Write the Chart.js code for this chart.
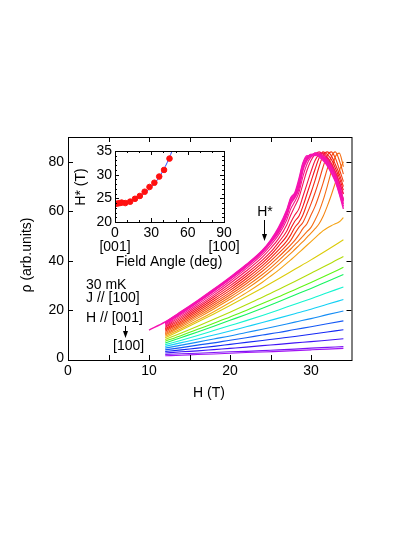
<!DOCTYPE html>
<html>
<head>
<meta charset="utf-8">
<script src="https://cdn.jsdelivr.net/npm/chart.js@4.4.1/dist/chart.umd.min.js"></script>
<style>
  html, body { margin: 0; padding: 0; background: #fff; }
  #wrap { position: relative; width: 415px; height: 537px; }
  canvas { position: absolute; left: 0; top: 0; }
</style>
</head>
<body>
<div id="wrap">
  <canvas id="chart" width="415" height="537"></canvas>
  <canvas id="inset" width="415" height="537"></canvas>
</div>
<script>
const fontFamily = "'Liberation Sans', Arial, Helvetica, sans-serif"
const fontSize = 14

// main panel: resistivity vs field, angle goes from [001] (0 deg) to [100] (90 deg)
const xTicks = [0, 10, 20, 30]
const yTicks = [0, 20, 40, 60, 80]

const fieldHigh = [10, 12, 14, 16, 18, 20, 22, 24, 25, 26, 27, 27.5, 28, 28.5, 29, 29.5, 30, 30.5, 31, 31.5, 32, 32.5, 33, 33.5, 34]
const fieldLow = [12, 14, 16, 18, 20, 22, 24, 26, 28, 30, 32, 34]

const rho0 = [12.1, 15.4, 19.6, 24.0, 28.6, 33.4, 38.5, 44.3, 48.3, 53.5, 60.5, 65.5, 67.5, 73, 79.5, 82.5, 82, 83.5, 82, 80.5, 78.5, 75.5, 72, 67, 61]
const rho1 = [null, 15.2, 19.4, 23.8, 28.4, 33.2, 38.3, 44.1, 48.0, 53.0, 60.0, 65, 67, 72, 79, 82, 82.5, 83, 82.5, 81, 79, 76, 72.5, 67.5, 62]
const rho2 = [null, 15.0, 19.2, 23.6, 28.2, 33.0, 38.1, 43.9, 47.8, 52.5, 59.5, 64.5, 66.5, 71, 78, 81.5, 83, 82.5, 83, 81.5, 79.5, 77, 73.5, 68.5, 63]
const rho3 = [null, 14.8, 19.0, 23.4, 28.0, 32.8, 37.9, 43.7, 47.6, 52.0, 59, 64, 66, 70, 77.5, 81, 83, 83, 82.5, 82, 80, 77.5, 74, 69.5, 64]
const rho4 = [null, 14.6, 18.8, 23.2, 27.8, 32.6, 37.7, 43.5, 47.3, 51.5, 58, 63, 65.5, 69, 76.5, 80.5, 82.5, 83.5, 83, 82, 80.5, 78, 74.5, 70, 64.5]
const rho8 = [null, 14.1, 18.2, 22.5, 27.0, 31.8, 36.9, 42.6, 46.3, 50.5, 56.5, 61, 64, 67.5, 74, 79, 82, 83.5, 83.5, 82.5, 81, 78.5, 75, 70.5, 65]
const rho12 = [null, 13.6, 17.6, 21.8, 26.2, 30.9, 35.9, 41.5, 45.0, 49, 54.5, 58.5, 62, 65.5, 71, 76.5, 80.5, 83, 84, 83, 81.5, 79, 76, 72, 67]
const rho16 = [null, 13.1, 17.0, 21.1, 25.4, 29.9, 34.8, 40.3, 43.5, 47.5, 52, 55.5, 58.5, 61, 66, 71, 76, 80.5, 83, 83.5, 82, 79.5, 76, 71.5, 67]
const rho20 = [null, 12.6, 16.4, 20.4, 24.6, 29.0, 33.8, 39.2, 42.3, 46, 50, 53, 56, 58, 62, 67, 72, 77, 81.5, 84, 83, 81, 77.5, 73.5, 68.5]
const rho24 = [null, 12.1, 15.8, 19.7, 23.8, 28.1, 32.8, 38.1, 41.1, 44.4, 48, 50.5, 53.5, 55.5, 58.5, 63, 67.5, 72.5, 78, 82.5, 84, 82.5, 79, 75, 70]
const rho28 = [null, 11.6, 15.2, 19.0, 23.0, 27.2, 31.8, 37.0, 39.9, 43.0, 46.4, 48.3, 51, 53.5, 55.5, 59, 63, 67.5, 72.5, 78, 82.5, 84, 81.5, 77, 72]
const rho32 = [null, 11.1, 14.6, 18.3, 22.2, 26.3, 30.8, 35.8, 38.6, 41.6, 44.8, 46.5, 48.3, 50.5, 53, 55, 58.5, 62, 66.5, 71.5, 77, 82, 84, 80.5, 75]
const rho36 = [null, 10.6, 14.0, 17.6, 21.4, 25.4, 29.7, 34.5, 37.2, 40.1, 43.2, 44.8, 46.5, 48.2, 50, 51.8, 53.5, 56.5, 60, 64.5, 70, 76, 82, 83.5, 78]
const rho40 = [null, 10.1, 13.4, 16.9, 20.6, 24.5, 28.6, 33.2, 35.8, 38.6, 41.5, 43.0, 44.6, 46.2, 47.8, 49.5, 51.2, 53, 55, 58, 62, 66.5, 71.5, 76.5, 80]
const rho44 = [null, 9.6, 12.7, 16.0, 19.5, 23.2, 27.1, 31.4, 33.8, 36.3, 39.0, 40.4, 41.8, 43.3, 44.8, 46.3, 47.8, 49.3, 50.8, 52.2, 53.3, 54.2, 55.0, 55.8, 57.5]
const rho48 = [9.0, 12.1, 15.3, 18.6, 22.0, 25.5, 29.1, 32.8, 36.6, 40.4, 44.4, 48.5]
const rho52 = [8.3, 10.9, 13.6, 16.4, 19.3, 22.3, 25.3, 28.5, 31.7, 35.0, 38.3, 41.8]
const rho56 = [7.6, 9.9, 12.4, 14.8, 17.4, 20.0, 22.8, 25.5, 28.4, 31.3, 34.3, 37.4]
const rho60 = [6.9, 9.1, 11.3, 13.6, 16.0, 18.4, 20.9, 23.5, 26.2, 28.9, 31.7, 34.5]
const rho64 = [6.2, 8.0, 9.9, 11.9, 13.9, 15.9, 18.0, 20.2, 22.5, 24.7, 27.1, 29.5]
const rho68 = [5.5, 7.0, 8.5, 10.1, 11.7, 13.4, 15.1, 16.9, 18.7, 20.5, 22.5, 24.4]
const rho72 = [4.8, 6.0, 7.2, 8.5, 9.7, 11.1, 12.4, 13.8, 15.3, 16.7, 18.3, 19.8]
const rho76 = [4.1, 5.0, 6.0, 6.9, 8.0, 9.0, 10.1, 11.1, 12.3, 13.4, 14.6, 15.8]
const rho80 = [3.4, 4.1, 4.8, 5.5, 6.3, 7.1, 7.9, 8.7, 9.5, 10.4, 11.3, 12.2]
const rho84 = [2.8, 3.3, 3.7, 4.2, 4.7, 5.2, 5.8, 6.3, 6.9, 7.4, 8.0, 8.6]
const rho88 = [2.2, 2.5, 2.7, 3.0, 3.3, 3.5, 3.8, 4.1, 4.4, 4.8, 5.1, 5.4]
const rho90 = [1.7, 1.9, 2.2, 2.4, 2.7, 3.0, 3.2, 3.5, 3.8, 4.1, 4.4, 4.7]

// inset: H* vs field angle
const insetXTicks = [0, 30, 60, 90]
const insetYTicks = [20, 25, 30, 35]
const angleDeg = [0, 2, 4, 5.5, 8.5, 12.5, 16.5, 20.5, 24.5, 28.5, 32.5, 36.5, 40.5, 45]
const hStar = [23.8, 23.9, 24.0, 24.1, 24.0, 24.3, 24.9, 25.5, 26.4, 27.4, 28.3, 29.6, 31.0, 33.4]
const fitAngle = [0, 5, 10, 15, 20, 25, 30, 35, 40, 43, 46, 48]
const fitH = [23.8, 23.9, 24.2, 24.6, 25.3, 26.2, 27.4, 28.9, 31.0, 32.5, 34.3, 35.6]

// colours, magenta at [001] down to purple at [100]
const curveHue = [318, 318, 320, 320, 322, 328, 340, 350, 358, 5, 12, 18, 24, 30, 38, 55, 72, 100, 140, 170, 190, 208, 222, 235, 252, 268, 278]

const curves = [
    [fieldHigh, rho0], [fieldHigh, rho1], [fieldHigh, rho2], [fieldHigh, rho3], [fieldHigh, rho4],
    [fieldHigh, rho8], [fieldHigh, rho12], [fieldHigh, rho16], [fieldHigh, rho20], [fieldHigh, rho24],
    [fieldHigh, rho28], [fieldHigh, rho32], [fieldHigh, rho36], [fieldHigh, rho40], [fieldHigh, rho44],
    [fieldLow, rho48], [fieldLow, rho52], [fieldLow, rho56], [fieldLow, rho60], [fieldLow, rho64],
    [fieldLow, rho68], [fieldLow, rho72], [fieldLow, rho76], [fieldLow, rho80], [fieldLow, rho84],
    [fieldLow, rho88], [fieldLow, rho90]
]

function hueColor(h) {
    const light = (h >= 45 && h <= 95) ? 45 : 52
    return `hsl(${h}, 92%, ${light}%)`
}

function toPoints(xs, ys) {
    const pts = []
    xs.forEach((v, i) => { if (ys[i] !== null) pts.push({x: v, y: ys[i]}) })
    return pts
}

function arrowDown(ctx, x, y0, y1) {
    ctx.beginPath()
    ctx.moveTo(x, y0)
    ctx.lineTo(x, y1 - 5)
    ctx.stroke()
    ctx.beginPath()
    ctx.moveTo(x - 2.5, y1 - 7)
    ctx.lineTo(x + 2.5, y1 - 7)
    ctx.lineTo(x, y1)
    ctx.closePath()
    ctx.fill()
}

const mainFrame = {
    id: "mainFrame",
    afterDraw(chart) {
        const {ctx, chartArea: a, scales: {x, y}} = chart
        ctx.save()
        ctx.strokeStyle = "black"
        ctx.fillStyle = "black"
        ctx.lineWidth = 1
        ctx.strokeRect(a.left + 0.5, a.top + 0.5, a.right - a.left, a.bottom - a.top)
        ctx.beginPath()
        for (let v = 5; v < 35; v += 5) {
            const p = Math.round(x.getPixelForValue(v)) + 0.5
            ctx.moveTo(p, a.bottom); ctx.lineTo(p, a.bottom - 5)
            ctx.moveTo(p, a.top); ctx.lineTo(p, a.top + 5)
        }
        for (let v = 20; v < 90; v += 20) {
            const p = Math.round(y.getPixelForValue(v)) + 0.5
            ctx.moveTo(a.left, p); ctx.lineTo(a.left + 5, p)
            ctx.moveTo(a.right, p); ctx.lineTo(a.right - 5, p)
        }
        ctx.stroke()

        ctx.font = `${fontSize}px ${fontFamily}`
        ctx.textAlign = "center"
        ctx.textBaseline = "middle"
        xTicks.forEach(v => ctx.fillText(String(v), x.getPixelForValue(v), a.bottom + 11))
        ctx.textAlign = "right"
        yTicks.forEach(v => ctx.fillText(String(v), a.left - 4, y.getPixelForValue(v) - (v === 0 ? 2 : 0)))

        ctx.textAlign = "center"
        ctx.fillText("H (T)", 209, 393)
        ctx.save()
        ctx.translate(27, 255)
        ctx.rotate(-Math.PI / 2)
        ctx.fillText("\u03c1 (arb.units)", 0, 0)
        ctx.restore()

        // notes
        ctx.textAlign = "left"
        ctx.fillText("30 mK", 86, 285)
        ctx.fillText("J // [100]", 86, 298)
        ctx.fillText("H // [001]", 86, 318)
        ctx.fillText("[100]", 113, 346)
        arrowDown(ctx, 125.5, 326, 338)

        ctx.textAlign = "center"
        ctx.fillText("H*", 265, 212)
        arrowDown(ctx, 264.5, 220, 241)
        ctx.restore()
    }
}

const insetFrame = {
    id: "insetFrame",
    afterDraw(chart) {
        const {ctx, chartArea: a, scales: {x, y}} = chart
        ctx.save()
        ctx.strokeStyle = "black"
        ctx.fillStyle = "black"
        ctx.lineWidth = 1
        ctx.strokeRect(a.left + 0.5, a.top + 0.5, a.right - a.left, a.bottom - a.top)
        ctx.beginPath()
        for (let v = 10; v < 90; v += 10) {
            const p = Math.round(x.getPixelForValue(v)) + 0.5
            const len = v % 30 === 0 ? 4 : 2
            ctx.moveTo(p, a.bottom); ctx.lineTo(p, a.bottom - len)
            ctx.moveTo(p, a.top); ctx.lineTo(p, a.top + len)
        }
        for (let v = 21; v < 35; v += 1) {
            const p = Math.round(y.getPixelForValue(v)) + 0.5
            const len = v % 5 === 0 ? 4 : 2
            ctx.moveTo(a.left, p); ctx.lineTo(a.left + len, p)
            ctx.moveTo(a.right, p); ctx.lineTo(a.right - len, p)
        }
        ctx.stroke()

        ctx.font = `${fontSize}px ${fontFamily}`
        ctx.textAlign = "center"
        ctx.textBaseline = "middle"
        insetXTicks.forEach(v => ctx.fillText(String(v), x.getPixelForValue(v), a.bottom + 11.5))
        ctx.fillText("[001]", x.getPixelForValue(0), 247)
        ctx.fillText("[100]", x.getPixelForValue(90), 247)
        ctx.fillText("Field Angle (deg)", 169, 262)
        ctx.textAlign = "right"
        insetYTicks.forEach(v => ctx.fillText(String(v), a.left - 3, y.getPixelForValue(v)))
        ctx.textAlign = "center"
        ctx.save()
        ctx.translate(81, 187)
        ctx.rotate(-Math.PI / 2)
        ctx.fillText("H* (T)", 0, 0)
        ctx.restore()
        ctx.restore()
    }
}

const hiddenScale = (min, max) => ({
    type: "linear",
    min: min,
    max: max,
    display: false
})

window.mainChart = new Chart(document.getElementById("chart").getContext("2d"), {
    type: "line",
    data: {
        datasets: curves.map((c, i) => ({
            data: toPoints(c[0], c[1]),
            borderColor: hueColor(curveHue[i]),
            borderWidth: i < 5 ? 1.4 : 1.1,
            pointRadius: 0,
            cubicInterpolationMode: "monotone",
            fill: false
        }))
    },
    options: {
        responsive: false,
        animation: false,
        layout: {padding: {left: 68, right: 63.5, top: 137, bottom: 177}},
        plugins: {legend: {display: false}, tooltip: {enabled: false}},
        scales: {x: hiddenScale(0, 35), y: hiddenScale(0, 90)}
    },
    plugins: [mainFrame]
})

window.insetChart = new Chart(document.getElementById("inset").getContext("2d"), {
    type: "scatter",
    data: {
        datasets: [
            {
                data: toPoints(angleDeg, hStar),
                backgroundColor: "#ff1010",
                borderColor: "#ff1010",
                pointRadius: 2.8,
                showLine: false
            },
            {
                data: toPoints(fitAngle, fitH),
                borderColor: "#2a4cff",
                borderWidth: 1,
                pointRadius: 0,
                showLine: true,
                cubicInterpolationMode: "monotone"
            }
        ]
    },
    options: {
        responsive: false,
        animation: false,
        layout: {padding: {left: 115, right: 191, top: 151, bottom: 315}},
        plugins: {legend: {display: false}, tooltip: {enabled: false}},
        scales: {x: hiddenScale(0, 90), y: hiddenScale(20, 35)}
    },
    plugins: [insetFrame]
})
</script>
</body>
</html>
